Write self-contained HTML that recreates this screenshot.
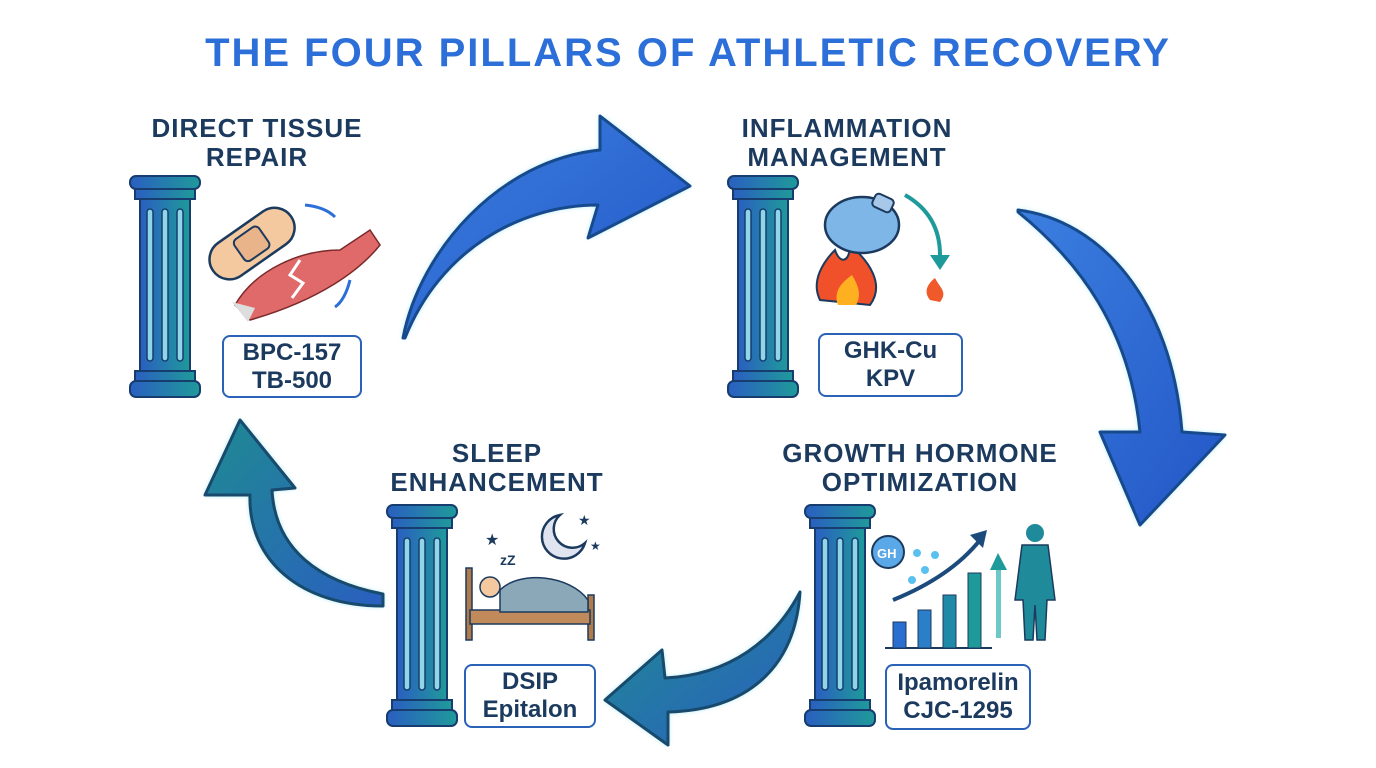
<!DOCTYPE html>
<html><head><meta charset="utf-8"><style>
html,body{margin:0;padding:0;background:#fff}
body{width:1376px;height:768px;position:relative;overflow:hidden;font-family:"Liberation Sans",sans-serif}
.t{position:absolute;font-weight:bold;color:#1b3a5e;text-align:center;font-size:26px;line-height:29px;letter-spacing:1px}
.box{position:absolute;border:2.5px solid #2a62b8;border-radius:8px;background:#fff;color:#1b3a5e;font-weight:bold;font-size:24px;line-height:28px;text-align:center;display:flex;align-items:center;justify-content:center;box-sizing:border-box}
</style></head><body>
<div style="position:absolute;left:0;width:1376px;top:31px;text-align:center;font-weight:bold;font-size:40px;color:#2c6fd8;letter-spacing:2px">THE FOUR PILLARS OF ATHLETIC RECOVERY</div>

<div class="t" style="left:97px;width:320px;top:114px">DIRECT TISSUE<br>REPAIR</div>
<div class="t" style="left:687px;width:320px;top:114px">INFLAMMATION<br>MANAGEMENT</div>
<div class="t" style="left:337px;width:320px;top:439px">SLEEP<br>ENHANCEMENT</div>
<div class="t" style="left:760px;width:320px;top:439px">GROWTH HORMONE<br>OPTIMIZATION</div>

<div class="box" style="left:222px;top:335px;width:140px;height:63px">BPC-157<br>TB-500</div>
<div class="box" style="left:818px;top:333px;width:145px;height:64px">GHK-Cu<br>KPV</div>
<div class="box" style="left:464px;top:664px;width:132px;height:64px">DSIP<br>Epitalon</div>
<div class="box" style="left:885px;top:664px;width:146px;height:66px">Ipamorelin<br>CJC-1295</div>

<svg width="1376" height="768" style="position:absolute;left:0;top:0">
<defs>
<linearGradient id="pg" x1="0" x2="1"><stop offset="0" stop-color="#2a5fc0"/><stop offset="1" stop-color="#1f9a9a"/></linearGradient>
<linearGradient id="ab" x1="0" y1="0" x2="1" y2="1"><stop offset="0" stop-color="#3b7fe0"/><stop offset="1" stop-color="#2356c6"/></linearGradient>
<linearGradient id="at" x1="0" y1="0" x2="1" y2="1"><stop offset="0" stop-color="#1f8a92"/><stop offset="1" stop-color="#2a5fc0"/></linearGradient>
<filter id="gl"><feGaussianBlur stdDeviation="3"/></filter>
<g id="pil">
<rect x="0" y="0" width="70" height="13" rx="6" fill="url(#pg)" stroke="#163d6e" stroke-width="2"/>
<rect x="5" y="13" width="60" height="10" fill="url(#pg)" stroke="#163d6e" stroke-width="2"/>
<rect x="10" y="23" width="50" height="172" fill="url(#pg)" stroke="#163d6e" stroke-width="2"/>
<rect x="17" y="33" width="6" height="152" rx="3" fill="#8fd6e8" stroke="#163d6e" stroke-width="1.5"/>
<rect x="32" y="33" width="6" height="152" rx="3" fill="#8fd6e8" stroke="#163d6e" stroke-width="1.5"/>
<rect x="47" y="33" width="6" height="152" rx="3" fill="#8fd6e8" stroke="#163d6e" stroke-width="1.5"/>
<rect x="5" y="195" width="60" height="10" fill="url(#pg)" stroke="#163d6e" stroke-width="2"/>
<rect x="0" y="205" width="70" height="16" rx="6" fill="url(#pg)" stroke="#163d6e" stroke-width="2"/>
</g>
</defs>
<use href="#pil" x="130" y="176"/>
<use href="#pil" x="728" y="176"/>
<use href="#pil" x="387" y="505"/>
<use href="#pil" x="805" y="505"/>

<g>
<path d="M403,338 C420,250 500,160 600,150 L600,116 L690,186 L588,238 L598,205 C520,205 440,250 405,338 Z" fill="#8ee0f0" filter="url(#gl)"/>
<path d="M403,338 C420,250 500,160 600,150 L600,116 L690,186 L588,238 L598,205 C520,205 440,250 405,338 Z" fill="url(#ab)" stroke="#174a8c" stroke-width="3" stroke-linejoin="round"/>
<path d="M1018,210 C1100,220 1172,300 1182,432 L1225,435 L1140,525 L1100,432 L1140,432 C1130,330 1080,262 1018,212 Z" fill="#8ee0f0" filter="url(#gl)"/>
<path d="M1018,210 C1100,220 1172,300 1182,432 L1225,435 L1140,525 L1100,432 L1140,432 C1130,330 1080,262 1018,212 Z" fill="url(#ab)" stroke="#174a8c" stroke-width="3" stroke-linejoin="round"/>
<path d="M800,592 C795,670 745,710 668,712 L668,745 L605,700 L662,650 L665,678 C730,675 775,640 800,592 Z" fill="#8ee0f0" filter="url(#gl)"/>
<path d="M800,592 C795,670 745,710 668,712 L668,745 L605,700 L662,650 L665,678 C730,675 775,640 800,592 Z" fill="url(#at)" stroke="#174a6c" stroke-width="3" stroke-linejoin="round"/>
<path d="M383,606 C300,606 248,560 250,495 L205,495 L240,420 L295,488 L272,490 C275,550 320,582 383,594 Z" fill="#8ee0f0" filter="url(#gl)"/>
<path d="M383,606 C300,606 248,560 250,495 L205,495 L240,420 L295,488 L272,490 C275,550 320,582 383,594 Z" fill="url(#at)" stroke="#174a6c" stroke-width="3" stroke-linejoin="round"/>
</g>

<g transform="rotate(-35 250 245)"><rect x="205" y="225" width="95" height="40" rx="20" fill="#f4c9a0" stroke="#1b3a5e" stroke-width="2.5"/><rect x="237" y="232" width="30" height="26" rx="5" fill="#eab48a" stroke="#1b3a5e" stroke-width="2"/></g>
<path d="M235,305 C255,270 300,250 340,250 L370,230 L380,245 C360,270 320,300 250,320 Z" fill="#e06a6a" stroke="#7a2a2a" stroke-width="1.5"/>
<path d="M232,302 L248,322 L255,308" fill="#ddd"/>
<polyline points="300,260 290,275 303,283 292,298" fill="none" stroke="#fff" stroke-width="3"/>
<path d="M305,205 q20,2 30,12" fill="none" stroke="#2c6fd8" stroke-width="3"/>
<path d="M350,280 q-5,20 -15,27" fill="none" stroke="#2c6fd8" stroke-width="3"/>

<path d="M820,300 C810,280 825,260 835,250 C840,265 850,262 850,245 C870,262 885,285 870,305 Z" fill="#f0502a" stroke="#1b3a5e" stroke-width="2"/>
<path d="M838,305 C832,290 845,280 852,275 C858,285 862,295 856,305 Z" fill="#ffb020"/>
<ellipse cx="862" cy="225" rx="37" ry="28" fill="#7fb6e8" stroke="#1b3a5e" stroke-width="2.5"/>
<rect x="873" y="196" width="20" height="14" rx="4" fill="#a7c8e8" stroke="#1b3a5e" stroke-width="2" transform="rotate(25 883 203)"/>
<path d="M930,300 C922,290 930,282 935,278 C940,288 948,292 940,302 Z" fill="#f05a2a"/>
<path d="M905,195 q35,20 35,60" fill="none" stroke="#1f9a9a" stroke-width="4"/>
<polygon points="930,255 950,255 940,270" fill="#1f9a9a"/>

<path d="M560,515 a22,22 0 1 0 25,28 a18,18 0 1 1 -25,-28z" fill="#dfe4f0" stroke="#1b3a5e" stroke-width="2.5"/>
<text x="485" y="545" font-size="16" fill="#1b3a5e">★</text><text x="578" y="525" font-size="14" fill="#1b3a5e">★</text><text x="590" y="550" font-size="12" fill="#1b3a5e">★</text>
<text x="500" y="565" font-size="14" font-weight="bold" fill="#1b3a5e" font-family="Liberation Sans">zZ</text>
<rect x="466" y="568" width="6" height="72" fill="#b07a4a" stroke="#1b3a5e" stroke-width="1.5"/>
<rect x="588" y="595" width="6" height="45" fill="#b07a4a" stroke="#1b3a5e" stroke-width="1.5"/>
<rect x="470" y="610" width="120" height="14" fill="#c08a5a" stroke="#1b3a5e" stroke-width="1.5"/>
<circle cx="490" cy="587" r="10" fill="#f4c9a0" stroke="#1b3a5e" stroke-width="1.5"/>
<path d="M500,590 C520,570 570,575 588,600 L588,612 L500,612 Z" fill="#8aa8b8" stroke="#1b3a5e" stroke-width="1.5"/>

<circle cx="888" cy="552" r="16" fill="#5aa8e8" stroke="#1b3a5e" stroke-width="2"/>
<text x="877" y="558" font-size="13" font-weight="bold" fill="#fff" font-family="Liberation Sans">GH</text>
<circle cx="917" cy="553" r="4" fill="#5ac0f0"/><circle cx="935" cy="555" r="4" fill="#5ac0f0"/><circle cx="925" cy="570" r="4" fill="#5ac0f0"/><circle cx="912" cy="580" r="4" fill="#5ac0f0"/>
<line x1="885" y1="648" x2="992" y2="648" stroke="#1b3a5e" stroke-width="2"/>
<rect x="893" y="622" width="13" height="26" fill="#2a6fd0" stroke="#1b3a5e"/>
<rect x="918" y="610" width="13" height="38" fill="#2a7fc8" stroke="#1b3a5e"/>
<rect x="943" y="595" width="13" height="53" fill="#1f8aa8" stroke="#1b3a5e"/>
<rect x="968" y="573" width="13" height="75" fill="#1f9a9a" stroke="#1b3a5e"/>
<path d="M893,600 C930,585 960,565 980,540" fill="none" stroke="#1b4a7c" stroke-width="4"/>
<polygon points="970,535 987,530 983,548" fill="#1b4a7c"/>
<rect x="996" y="568" width="5" height="70" fill="#6fc8c8"/><polygon points="990,570 998,553 1007,570" fill="#1f9a9a"/>
<circle cx="1035" cy="533" r="9" fill="#1f8a9a"/>
<path d="M1022,545 L1048,545 L1055,600 L1047,600 L1045,640 L1037,640 L1035,605 L1033,640 L1025,640 L1023,600 L1015,600 Z" fill="#1f8a9a" stroke="#1b3a5e" stroke-width="1.5"/>
</svg>
</body></html>
